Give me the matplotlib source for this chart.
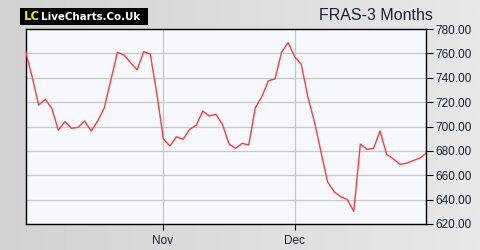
import numpy as np
import matplotlib
matplotlib.use("Agg")
import matplotlib.pyplot as plt
from matplotlib.patches import FancyBboxPatch

# FRAS closing prices, 3 months, one value per trading day
prices = [762, 741, 717.6, 722.3, 715, 697, 704, 698.5, 699.3, 704.5,
          696.3, 704.5, 715.4, 738, 760.9, 758.7, 752.4, 746.4, 761.4, 759.5,
          727, 689.7, 684, 691.6, 689.5, 697.7, 701, 712.7, 708.6, 710,
          701.8, 685.6, 682.1, 686.2, 684.8, 715.4, 724.5, 737.6, 739, 760.9,
          768.8, 757.3, 751, 724.5, 704, 679.3, 654.7, 646.5, 642.4, 640.2,
          630.4, 685.6, 681.3, 681.9, 696.3, 677.2, 673.6, 669, 669.8, 672,
          673.9, 678]
month_labels = ["Nov", "Dec"]
month_pos = [20.9, 41.0]
y_ticks = [620, 640, 660, 680, 700, 720, 740, 760, 780]

plt.rcParams['font.family'] = ['Liberation Sans', 'DejaVu Sans']

fig = plt.figure(figsize=(4.8, 2.5), dpi=100)

# grey gradient frame behind everything
bg = fig.add_axes([0, 0, 1, 1], zorder=-10)
grad = np.linspace(0, 1, 256).reshape(1, -1)
bg.imshow(grad, aspect="auto", cmap=matplotlib.colors.LinearSegmentedColormap.from_list(
    "frame", ["#d2d2d2", "#e8e8e8"]), extent=[0, 1, 0, 1])
bg.set_xlim(0, 1)
bg.set_ylim(0, 1)
bg.axis("off")

ax = fig.add_axes([25.5 / 480, 1 - 224 / 250, 400.5 / 480, 195 / 250])
ax.set_facecolor("#f7f8ff")
x = np.arange(len(prices))
ax.plot(x, prices, color="#ff3b3b", lw=1.0, zorder=3)

ax.set_xlim(0, len(prices) - 1)
ax.set_ylim(620, 780)
ax.set_yticks(y_ticks)
ax.set_yticklabels([f"{v:.2f}" for v in y_ticks])
ax.set_xticks(month_pos)
ax.set_xticklabels(month_labels)
ax.yaxis.tick_right()
ax.tick_params(axis="y", direction="out", length=5, width=0.8, pad=2,
               labelsize=8.5, labelcolor="#1c2036", color="black")
ax.tick_params(axis="x", direction="out", length=4, width=0.8, pad=4,
               labelsize=8.5, labelcolor="#1c2036", color="black")
ax.grid(True, color="#c8c8c8", lw=0.9)
ax.set_axisbelow(True)
for s in ax.spines.values():
    s.set_color("black")
    s.set_linewidth(1.0)

# logo
fig.patches.append(FancyBboxPatch((20 / 480, 1 - 25 / 250), 128 / 480, 17 / 250,
                                  boxstyle="square,pad=0", transform=fig.transFigure,
                                  facecolor="black", edgecolor="none"))
fig.text(24 / 480, 1 - 16.5 / 250, "LC", color="#f0e020", fontsize=8.5, fontweight="bold",
         family="DejaVu Sans", va="center", ha="left")
fig.text(41 / 480, 1 - 16.5 / 250, "LiveCharts.Co.Uk", color="white", fontsize=7.4,
         fontweight="bold", family="DejaVu Sans", va="center", ha="left")

fig.text(433 / 480, 1 - 16 / 250, "FRAS-3 Months", color="#1a1f3a", fontsize=11.5,
         ha="right", va="center")

fig.savefig("out.png", dpi=100)
